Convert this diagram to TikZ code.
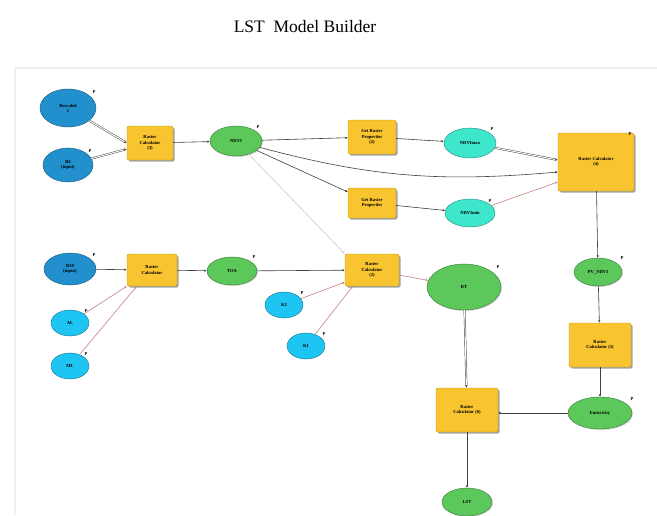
\documentclass[tikz,border=0pt]{standalone}
\usepackage{fontspec}
\setmainfont{Liberation Serif}
\usetikzlibrary{shadows,arrows.meta,shapes.geometric}
\definecolor{ylw}{HTML}{F8C430}
\definecolor{ylwd}{HTML}{C89A10}
\definecolor{dblue}{HTML}{2290CC}
\definecolor{lblue}{HTML}{1EC4F2}
\definecolor{teal}{HTML}{3EE6CC}
\definecolor{grn}{HTML}{5CC85C}
\tikzset{
  nf/.style={font=\fontsize{4.6}{5.2}\selectfont\bfseries},
  tool/.style={nf, draw=ylwd, fill=ylw, rounded corners=2pt, align=center, inner sep=1pt,
    drop shadow={shadow xshift=1.6pt, shadow yshift=-1.6pt, fill=gray!80!black, opacity=0.6}},
  invar/.style={nf, ellipse, draw=dblue!60!black, fill=dblue, align=center, inner sep=0pt},
  lvar/.style={nf, ellipse, draw=lblue!60!black, fill=lblue, align=center, inner sep=0pt},
  tvar/.style={nf, ellipse, draw=teal!60!black, fill=teal, align=center, inner sep=0pt},
  gvar/.style={nf, ellipse, draw=grn!60!black, fill=grn, align=center, inner sep=0pt,
    drop shadow={shadow xshift=1pt, shadow yshift=-1pt, fill=gray!60, opacity=0.5}},
  conn/.style={draw=gray!50!black, line width=0.6pt, -{Latex[length=2.5pt,width=2.5pt]}},
  lconn/.style={draw=gray!40, line width=0.6pt, -{Latex[length=2.5pt,width=2.5pt]}},
  rconn/.style={draw=red!40!gray!70, line width=0.6pt, -{Latex[length=2.5pt,width=2.5pt]}},
  dconn/.style={draw=gray!50!black, double=white, double distance=1pt, line width=0.45pt, -{Latex[length=2.5pt,width=2.5pt]}},
  pl/.style={font=\fontsize{4.5}{4.5}\selectfont\bfseries, inner sep=0pt},
}
\begin{document}
\begin{tikzpicture}[x=1pt,y=1pt]
\useasboundingbox (0,0) rectangle (657,-515);
\fill[white] (0,0) rectangle (657,-515);
\node[font=\fontsize{17.5}{20}\selectfont] (title) at (305,-27) {LST\ \ Model Builder};
\draw[gray!12, line width=2pt] (15,-515) -- (15,-68) -- (657,-68);

% nodes
\node[invar, minimum width=56pt, minimum height=38pt] (r1) at (68,-108) {Rescaled\\1};
\node[invar, minimum width=50pt, minimum height=34pt] (b4) at (68,-165) {B4\\(input)};
\node[tool, minimum width=46pt, minimum height=34pt] (rc3) at (150,-143) {Raster\\Calculator\\(3)};
\node[gvar, minimum width=52pt, minimum height=30pt] (ndvi) at (236,-141) {NDVI};
\node[tool, minimum width=48pt, minimum height=34pt] (grp2) at (372,-137) {Get Raster\\Properties\\(2)};
\node[tool, minimum width=48pt, minimum height=30pt] (grp) at (372,-203) {Get Raster\\Properties};
\node[tvar, minimum width=52pt, minimum height=30pt] (nmax) at (470,-143) {NDVImax};
\node[tvar, minimum width=50pt, minimum height=28pt] (nmin) at (470,-213) {NDVImin};
\node[tool, minimum width=76pt, minimum height=58pt] (rc4) at (596,-162) {Raster Calculator\\(4)};
\node[gvar, minimum width=48pt, minimum height=28pt] (pv) at (598,-272) {PV\_NDVI};
\node[tool, minimum width=62pt, minimum height=44pt] (rc5) at (600,-345) {Raster\\Calculator (5)};
\node[gvar, minimum width=64pt, minimum height=32pt] (em) at (600,-413) {Emissivity};
\node[tool, minimum width=62pt, minimum height=44pt] (rc6) at (467,-410) {Raster\\Calculator (6)};
\node[gvar, minimum width=50pt, minimum height=28pt] (lst) at (467,-502) {LST};
\node[gvar, minimum width=74pt, minimum height=46pt] (bt) at (464,-287) {BT};
\node[tool, minimum width=54pt, minimum height=32pt] (rc2) at (372,-270) {Raster\\Calculator\\(2)};
\node[gvar, minimum width=50pt, minimum height=28pt] (toa) at (232,-271) {TOA};
\node[tool, minimum width=50pt, minimum height=32pt] (rc) at (152,-270) {Raster\\Calculator};
\node[invar, minimum width=52pt, minimum height=32pt] (b10) at (70,-269) {B10\\(input)};
\node[lvar, minimum width=38pt, minimum height=26pt] (al) at (70,-323) {AL};
\node[lvar, minimum width=38pt, minimum height=26pt] (ml) at (70,-366) {ML};
\node[lvar, minimum width=38pt, minimum height=26pt] (k2) at (284,-305) {K2};
\node[lvar, minimum width=38pt, minimum height=26pt] (k1) at (306,-346) {K1};

% P labels
\foreach \n/\dx/\dy in {r1/26/16, b4/22/14, ndvi/22/14, nmax/22/14, nmin/20/12, rc4/34/28, pv/24/14, em/32/14, bt/34/20, toa/22/14, k2/18/12, k1/18/12, al/16/12, ml/16/12, b10/24/14}
  \node[pl] at ([xshift=\dx pt, yshift=\dy pt]\n.center) {P};

% connectors
\draw[dconn] (r1) -- (rc3.west);
\draw[dconn] (b4) -- ([yshift=-6pt]rc3.west);
\draw[conn] (rc3) -- (ndvi);
\draw[conn] (ndvi) -- (grp2);
\draw[conn] (ndvi) -- (grp);
\draw[conn] (ndvi) to[out=-15,in=185] ([yshift=-10pt]rc4.west);
\draw[lconn] (ndvi) -- (rc2.north west);
\draw[conn] (grp2) -- (nmax);
\draw[conn] (grp) -- (nmin);
\draw[dconn] (nmax) -- ([yshift=2pt]rc4.west);
\draw[rconn] (nmin) -- ([yshift=-20pt]rc4.west);
\draw[conn] (rc4) -- (pv);
\draw[conn] (pv) -- (rc5);
\draw[conn] (rc5) -- (em);
\draw[conn] (em.west) -- (em.west -| rc6.east);
\draw[conn] (b10) -- (rc);
\draw[rconn] (al) -- (rc.south west);
\draw[rconn] (ml) -- ([xshift=10pt]rc.south west);
\draw[conn] (rc) -- (toa);
\draw[conn] (toa) -- (rc2);
\draw[rconn] (k2) -- ([yshift=4pt]rc2.south west);
\draw[rconn] (k1) -- ([xshift=8pt]rc2.south west);
\draw[rconn] (rc2) -- (bt);
\draw[dconn] (bt) -- (rc6);
\draw[conn] (rc6) -- (lst);
\end{tikzpicture}
\end{document}
